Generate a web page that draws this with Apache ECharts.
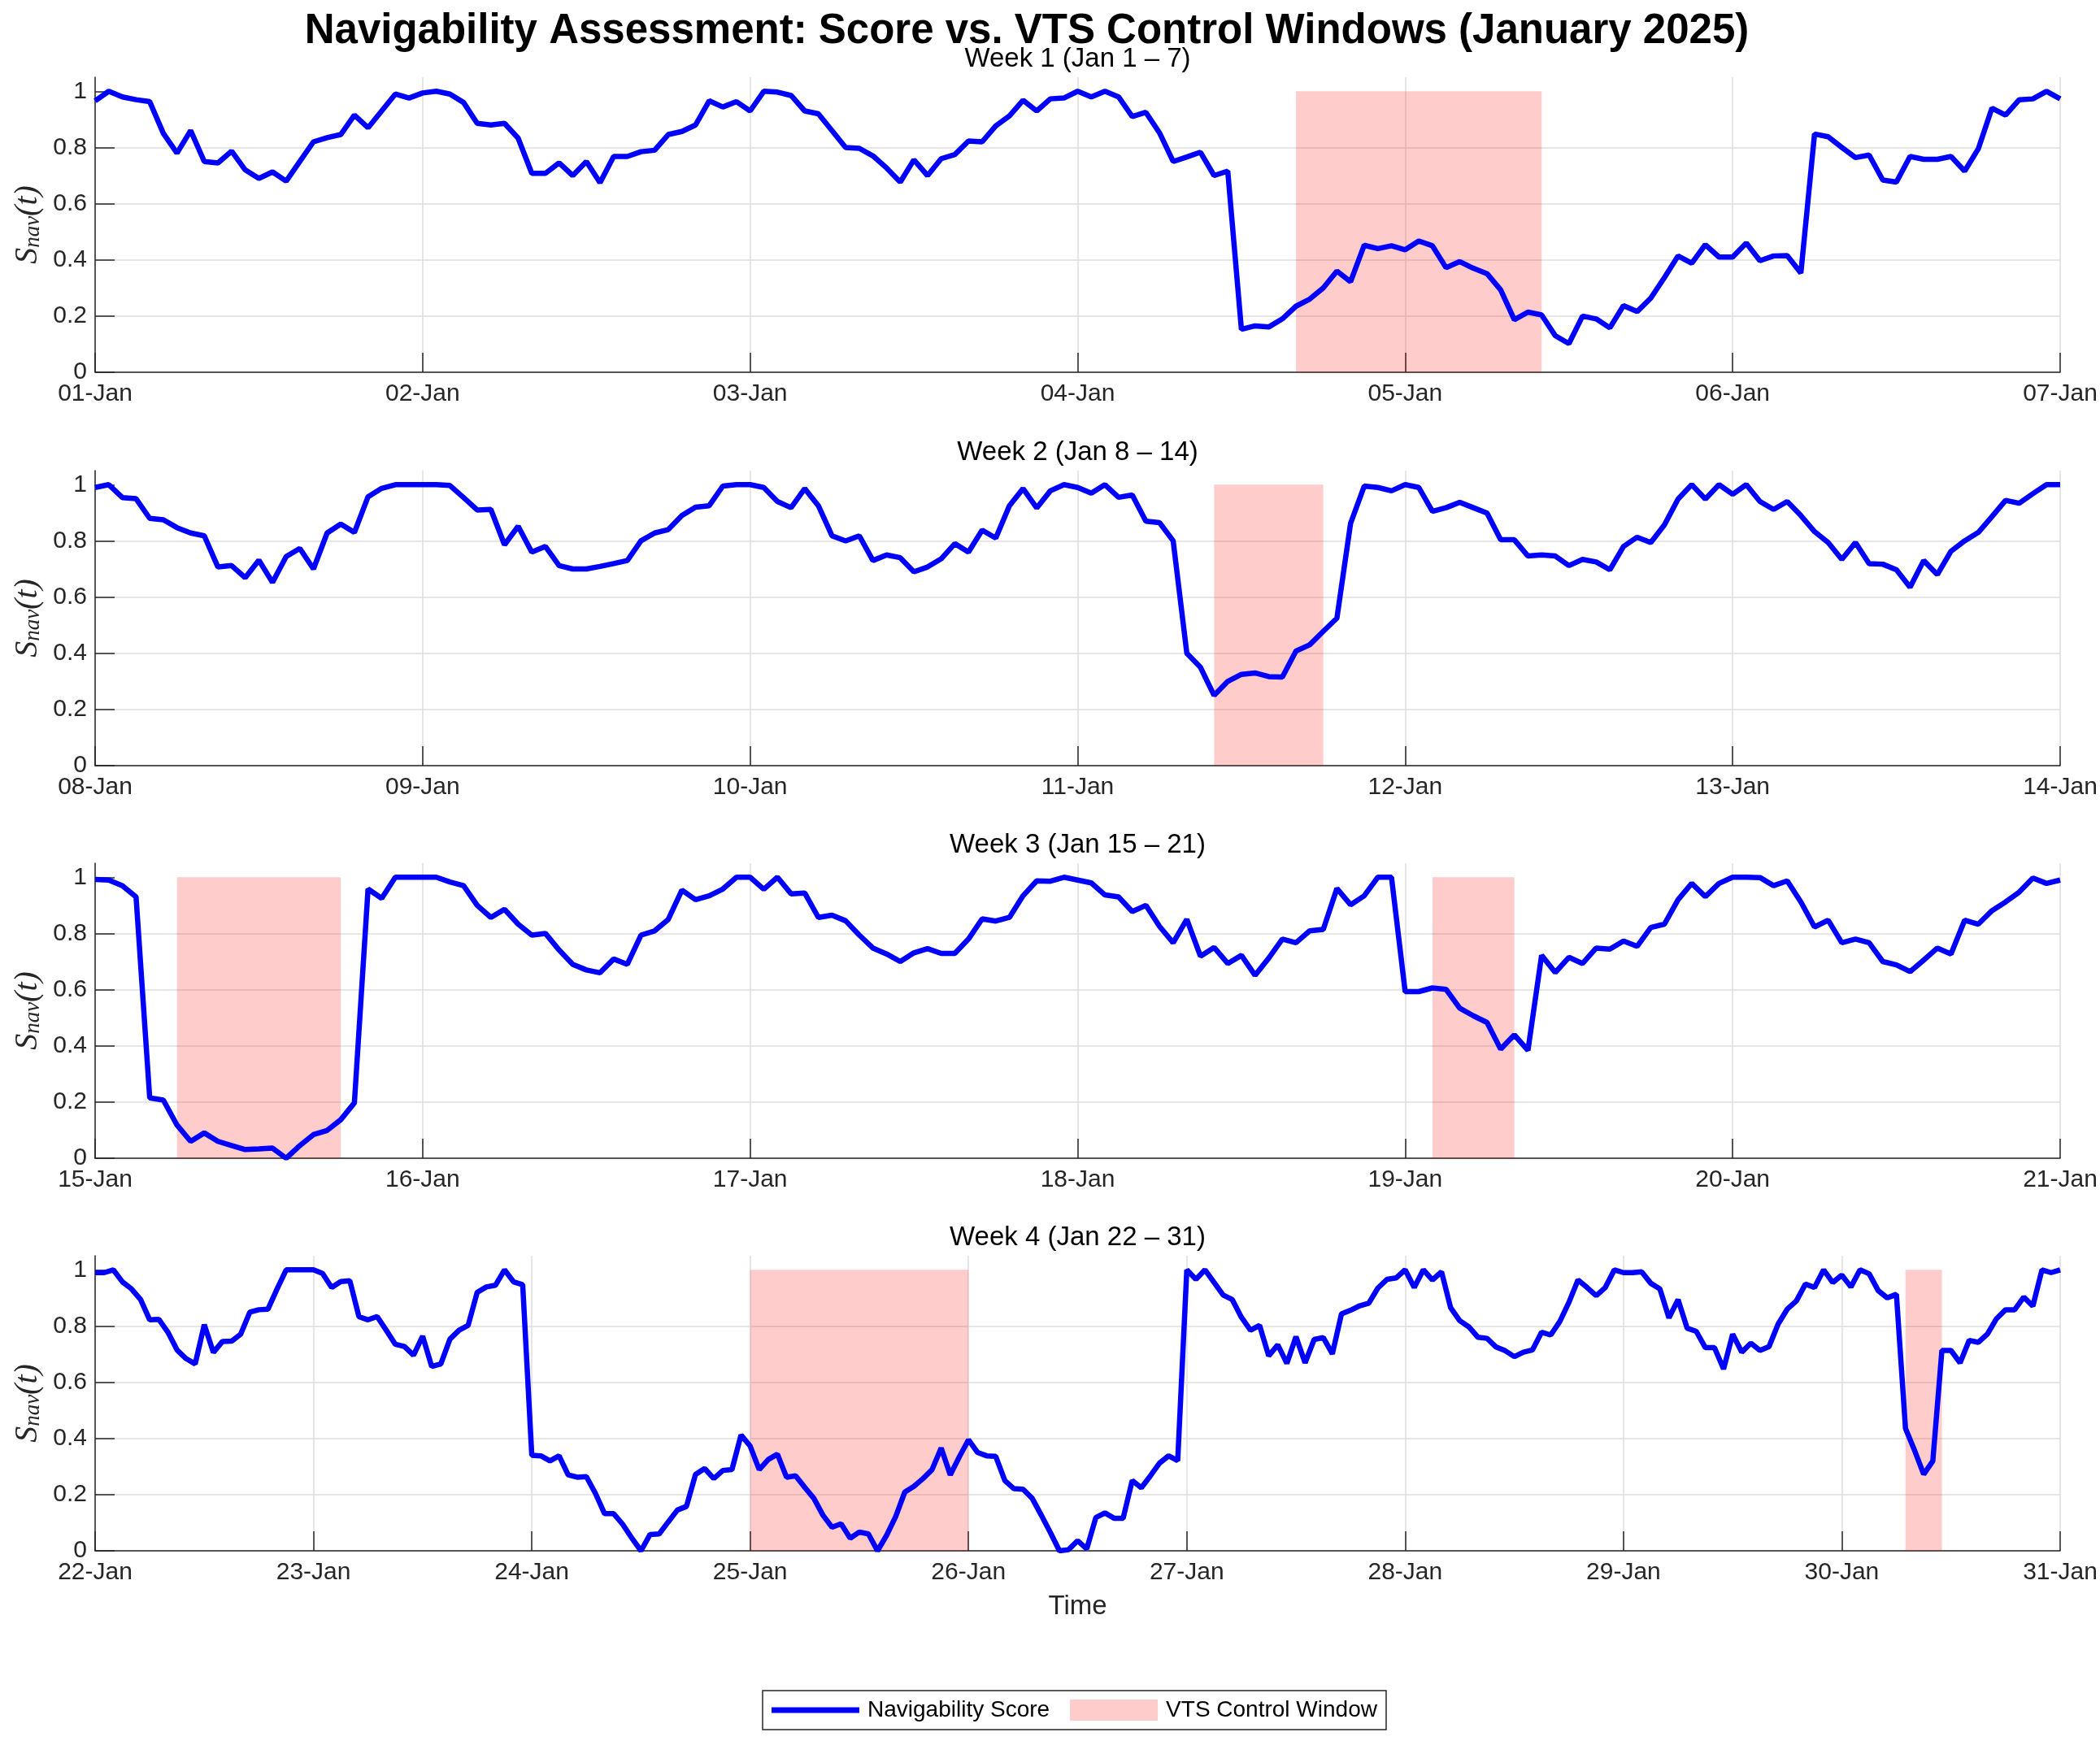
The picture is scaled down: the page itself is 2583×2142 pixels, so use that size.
<!DOCTYPE html>
<html>
<head>
<meta charset="utf-8">
<title>Navigability Assessment</title>
<script src="https://cdn.jsdelivr.net/npm/echarts@6/dist/echarts.min.js"></script>
<style>
html, body { margin: 0; padding: 0; background: #ffffff; }
#main { width: 2583px; height: 2142px; }
</style>
</head>
<body>
<div id="main"></div>
<script>
// hourly navigability score, one array per panel (first value = 00:00 of the first day)
var week1 = [
    0.966, 1.0, 0.98, 0.97, 0.963, 0.85, 0.78, 0.86, 0.75, 0.745, 0.787, 0.72, 0.69, 0.713, 0.68, 0.75, 0.82, 0.835, 0.846, 0.915, 0.87, 0.93, 0.99, 0.976,
    0.994, 1.0, 0.99, 0.96, 0.886, 0.88, 0.886, 0.833, 0.708, 0.708, 0.745, 0.70, 0.75, 0.675, 0.768, 0.768, 0.785, 0.79, 0.846, 0.857, 0.88, 0.966, 0.944, 0.963,
    0.93, 1.0, 0.997, 0.985, 0.93, 0.92, 0.86, 0.80, 0.797, 0.77, 0.727, 0.677, 0.756, 0.70, 0.76, 0.775, 0.823, 0.82, 0.877, 0.912, 0.968, 0.93, 0.973, 0.976,
    1.0, 0.98, 1.0, 0.98, 0.91, 0.925, 0.852, 0.75, 0.766, 0.783, 0.70, 0.716, 0.153, 0.165, 0.161, 0.19, 0.235, 0.26, 0.30, 0.36, 0.322, 0.452, 0.44, 0.45,
    0.436, 0.467, 0.45, 0.372, 0.394, 0.37, 0.351, 0.293, 0.187, 0.214, 0.204, 0.13, 0.102, 0.20, 0.19, 0.158, 0.237, 0.216, 0.264, 0.337, 0.414, 0.388, 0.454, 0.41,
    0.41, 0.46, 0.397, 0.414, 0.415, 0.353, 0.848, 0.838, 0.80, 0.764, 0.773, 0.684, 0.677, 0.768, 0.758, 0.758, 0.768, 0.716, 0.795, 0.94, 0.915, 0.97, 0.973, 1.0,
    0.973
];
var week2 = [
    0.99, 1.0, 0.954, 0.95, 0.88, 0.875, 0.847, 0.828, 0.818, 0.707, 0.712, 0.669, 0.731, 0.652, 0.744, 0.773, 0.70, 0.828, 0.86, 0.83, 0.957, 0.987, 1.0, 1.0,
    1.0, 1.0, 0.997, 0.954, 0.91, 0.912, 0.786, 0.852, 0.76, 0.78, 0.712, 0.70, 0.70, 0.709, 0.719, 0.73, 0.80, 0.828, 0.84, 0.89, 0.92, 0.925, 0.995, 1.0,
    1.0, 0.99, 0.94, 0.918, 0.986, 0.925, 0.818, 0.80, 0.818, 0.73, 0.75, 0.74, 0.69, 0.707, 0.736, 0.79, 0.76, 0.838, 0.81, 0.925, 0.986, 0.917, 0.978, 1.0,
    0.99, 0.97, 1.0, 0.955, 0.963, 0.87, 0.865, 0.80, 0.40, 0.35, 0.25, 0.30, 0.325, 0.33, 0.317, 0.315, 0.408, 0.43, 0.478, 0.525, 0.862, 0.995, 0.99, 0.978,
    1.0, 0.99, 0.905, 0.918, 0.937, 0.918, 0.899, 0.804, 0.804, 0.746, 0.75, 0.746, 0.712, 0.734, 0.725, 0.697, 0.78, 0.813, 0.794, 0.857, 0.949, 1.0, 0.949, 1.0,
    0.966, 1.0, 0.94, 0.912, 0.94, 0.89, 0.833, 0.794, 0.734, 0.794, 0.719, 0.717, 0.697, 0.635, 0.73, 0.68, 0.763, 0.80, 0.83, 0.886, 0.944, 0.934, 0.968, 1.0,
    1.0
];
var week3 = [
    0.992, 0.99, 0.97, 0.93, 0.215, 0.207, 0.118, 0.06, 0.09, 0.06, 0.045, 0.031, 0.033, 0.036, 0.0, 0.045, 0.084, 0.099, 0.137, 0.197, 0.958, 0.925, 1.0, 1.0,
    1.0, 1.0, 0.983, 0.97, 0.90, 0.857, 0.886, 0.833, 0.794, 0.80, 0.741, 0.69, 0.67, 0.66, 0.709, 0.69, 0.794, 0.809, 0.85, 0.954, 0.92, 0.934, 0.958, 1.0,
    1.0, 0.957, 1.0, 0.941, 0.944, 0.857, 0.865, 0.845, 0.794, 0.748, 0.727, 0.70, 0.731, 0.746, 0.729, 0.729, 0.78, 0.852, 0.844, 0.857, 0.934, 0.987, 0.986, 1.0,
    0.99, 0.98, 0.937, 0.93, 0.878, 0.90, 0.825, 0.767, 0.85, 0.719, 0.75, 0.693, 0.722, 0.651, 0.712, 0.78, 0.767, 0.809, 0.814, 0.96, 0.902, 0.934, 1.0, 1.0,
    0.593, 0.593, 0.606, 0.601, 0.534, 0.507, 0.483, 0.388, 0.439, 0.384, 0.722, 0.661, 0.715, 0.693, 0.748, 0.744, 0.773, 0.754, 0.821, 0.833, 0.92, 0.978, 0.931, 0.978,
    1.0, 1.0, 0.999, 0.97, 0.987, 0.912, 0.823, 0.847, 0.767, 0.78, 0.767, 0.70, 0.688, 0.664, 0.705, 0.748, 0.727, 0.847, 0.833, 0.881, 0.912, 0.947, 0.997, 0.978,
    0.99
];
var week4 = [
    0.99, 0.99, 1.0, 0.957, 0.932, 0.894, 0.822, 0.824, 0.778, 0.715, 0.684, 0.665, 0.805, 0.706, 0.745, 0.746, 0.771, 0.849, 0.858, 0.86, 0.932, 1.0, 1.0, 1.0,
    1.0, 0.987, 0.937, 0.958, 0.961, 0.833, 0.822, 0.834, 0.785, 0.735, 0.727, 0.696, 0.764, 0.656, 0.665, 0.753, 0.785, 0.802, 0.92, 0.939, 0.945, 1.0, 0.957, 0.947,
    0.34, 0.338, 0.32, 0.338, 0.27, 0.262, 0.264, 0.204, 0.132, 0.132, 0.094, 0.045, 0.0, 0.058, 0.06, 0.103, 0.145, 0.158, 0.272, 0.293, 0.257, 0.286, 0.289, 0.412,
    0.373, 0.289, 0.325, 0.344, 0.262, 0.267, 0.226, 0.187, 0.127, 0.084, 0.096, 0.045, 0.067, 0.06, 0.0, 0.055, 0.122, 0.209, 0.229, 0.257, 0.289, 0.366, 0.27, 0.335,
    0.395, 0.35, 0.338, 0.336, 0.25, 0.221, 0.219, 0.187, 0.127, 0.065, 0.0, 0.004, 0.036, 0.007, 0.118, 0.135, 0.116, 0.116, 0.25, 0.224, 0.267, 0.312, 0.338, 0.321,
    1.0, 0.966, 1.0, 0.955, 0.91, 0.894, 0.831, 0.785, 0.802, 0.694, 0.733, 0.667, 0.762, 0.669, 0.752, 0.759, 0.701, 0.843, 0.856, 0.872, 0.881, 0.935, 0.966, 0.971,
    1.0, 0.937, 1.0, 0.964, 0.993, 0.865, 0.819, 0.797, 0.76, 0.756, 0.725, 0.712, 0.691, 0.707, 0.715, 0.778, 0.768, 0.816, 0.884, 0.964, 0.937, 0.908, 0.937, 1.0,
    0.99, 0.99, 0.993, 0.952, 0.932, 0.829, 0.894, 0.792, 0.781, 0.723, 0.723, 0.647, 0.771, 0.707, 0.739, 0.713, 0.727, 0.807, 0.86, 0.889, 0.949, 0.937, 1.0, 0.955,
    0.981, 0.939, 1.0, 0.986, 0.926, 0.90, 0.913, 0.435, 0.357, 0.272, 0.319, 0.713, 0.713, 0.669, 0.749, 0.742, 0.771, 0.826, 0.858, 0.858, 0.903, 0.871, 1.0, 0.99,
    1.0
];

// VTS control windows, 'DD HH:MM' in January 2025
var vts1 = [['04 16:00', '05 10:00']];
var vts2 = [['11 10:00', '11 18:00']];
var vts3 = [['15 06:00', '15 18:00'], ['19 02:00', '19 08:00']];
var vts4 = [['25 00:00', '26 00:00'], ['30 07:00', '30 11:00']];

var weekStart = [1, 8, 15, 22];
var weekEnd = [7, 14, 21, 31];
var weekTitles = ['Week 1 (Jan 1 \u2013 7)', 'Week 2 (Jan 8 \u2013 14)', 'Week 3 (Jan 15 \u2013 21)', 'Week 4 (Jan 22 \u2013 31)'];
var yTicks = [0, 0.2, 0.4, 0.6, 0.8, 1];

var weeks = [week1, week2, week3, week4];
var windows = [vts1, vts2, vts3, vts4];

var FONT = '"Liberation Sans", Arial, Helvetica, sans-serif';
var SERIF = '"Liberation Serif", "DejaVu Serif", serif';
var AXIS_COLOR = '#262626';
var GRID_COLOR = '#dedede';

// panel placement
var gridTops = [95, 579, 1062, 1545];
var gridHeight = 363;
var gridLeft = 117;
var gridRight = 49;

function toDay(s) {
    return +s.slice(0, 2) + (+s.slice(3, 5)) / 24 + (+s.slice(6, 8)) / 1440;
}
function pad(n) {
    return (n < 10 ? '0' : '') + n;
}

var grids = [], xAxes = [], yAxes = [], series = [], graphics = [];

for (var i = 0; i < 4; i++) {
    grids.push({ left: gridLeft, right: gridRight, top: gridTops[i], height: gridHeight, containLabel: false });

    xAxes.push({
        gridIndex: i,
        type: 'value',
        min: weekStart[i],
        max: weekEnd[i],
        interval: 1,
        axisLine: { show: true, onZero: false, lineStyle: { color: AXIS_COLOR, width: 1.5 } },
        axisTick: { show: true, inside: true, length: 24, lineStyle: { color: AXIS_COLOR, width: 1.5 } },
        axisLabel: {
            margin: 12, fontSize: 30, color: AXIS_COLOR, fontFamily: FONT,
            showMinLabel: true, showMaxLabel: true,
            formatter: function (v) { return pad(Math.round(v)) + '-Jan'; }
        },
        splitLine: { show: true, lineStyle: { color: GRID_COLOR, width: 1.5 } },
        name: i === 3 ? 'Time' : '',
        nameLocation: 'middle',
        nameGap: 52,
        nameTextStyle: { fontSize: 33, color: AXIS_COLOR, fontFamily: FONT }
    });

    yAxes.push({
        gridIndex: i,
        type: 'value',
        min: 0,
        max: 1.05,
        interval: 0.2,
        axisLine: { show: true, lineStyle: { color: AXIS_COLOR, width: 1.5 } },
        axisTick: { show: true, inside: true, length: 24, lineStyle: { color: AXIS_COLOR, width: 1.5 }, customValues: yTicks },
        axisLabel: {
            margin: 10, fontSize: 30, color: AXIS_COLOR, fontFamily: FONT, customValues: yTicks,
            formatter: function (v) { return v > 1.001 ? '' : String(+(+v).toFixed(1)); }
        },
        splitLine: { show: true, showMaxLine: false, lineStyle: { color: GRID_COLOR, width: 1.5 } },
        name: '{s|S}{n|nav}{s|(t)}',
        nameLocation: 'middle',
        nameRotate: 90,
        nameGap: 50,
        nameTextStyle: {
            color: AXIS_COLOR,
            rich: {
                s: { fontSize: 40, fontStyle: 'italic', fontFamily: SERIF, color: AXIS_COLOR, lineHeight: 42, verticalAlign: 'bottom' },
                n: { fontSize: 27, fontStyle: 'italic', fontFamily: SERIF, color: AXIS_COLOR, lineHeight: 14, verticalAlign: 'bottom' }
            }
        }
    });

    var pts = weeks[i].map(function (v, k) { return [weekStart[i] + k / 24, v]; });
    series.push({
        type: 'line',
        name: 'Navigability Score',
        xAxisIndex: i,
        yAxisIndex: i,
        data: pts,
        showSymbol: false,
        symbol: 'none',
        z: 3,
        lineStyle: { color: '#0000ff', width: 6.5 },
        itemStyle: { color: '#0000ff' },
        markArea: {
            silent: true,
            label: { show: false },
            itemStyle: { color: 'rgba(255,0,0,0.2)', borderWidth: 0 },
            data: windows[i].map(function (w) {
                return [{ xAxis: toDay(w[0]), yAxis: 0 }, { xAxis: toDay(w[1]), yAxis: 1 }];
            })
        }
    });

    graphics.push({
        type: 'text',
        x: gridLeft + (2583 - gridLeft - gridRight) / 2,
        y: gridTops[i] - 22,
        style: {
            text: weekTitles[i], fontSize: 33, fontFamily: FONT, fill: '#000',
            align: 'center', verticalAlign: 'middle', textAlign: 'center', textVerticalAlign: 'middle'
        }
    });
}

// legend-only entry for the shaded windows
series.push({
    type: 'bar',
    name: 'VTS Control Window',
    xAxisIndex: 0,
    yAxisIndex: 0,
    data: [],
    itemStyle: { color: 'rgba(255,0,0,0.2)' }
});

graphics.push({
    type: 'text',
    x: 1263,
    y: 39,
    style: {
        text: 'Navigability Assessment: Score vs. VTS Control Windows (January 2025)',
        fontSize: 51, fontWeight: 'bold', fontFamily: FONT, fill: '#000',
        align: 'center', verticalAlign: 'middle', textAlign: 'center', textVerticalAlign: 'middle'
    }
});

var option = {
    backgroundColor: '#ffffff',
    animation: false,
    grid: grids,
    xAxis: xAxes,
    yAxis: yAxes,
    series: series,
    graphic: graphics,
    legend: {
        left: 938,
        top: 2080,
        orient: 'horizontal',
        padding: [10, 11],
        itemGap: 25,
        itemWidth: 108,
        itemHeight: 26,
        symbolKeepAspect: true,
        borderColor: AXIS_COLOR,
        borderWidth: 1.5,
        borderRadius: 0,
        backgroundColor: '#ffffff',
        selectedMode: false,
        textStyle: { fontSize: 28, color: '#000', fontFamily: FONT, padding: [0, 0, 0, 5] },
        data: [
            { name: 'Navigability Score', icon: 'path://M0,0H108V7H0Z', itemStyle: { color: '#0000ff' } },
            { name: 'VTS Control Window', icon: 'rect', itemStyle: { color: 'rgba(255,0,0,0.2)' } }
        ]
    }
};

var myChart = echarts.init(document.getElementById('main'), null, { renderer: 'canvas' });
myChart.setOption(option);
</script>
</body>
</html>
